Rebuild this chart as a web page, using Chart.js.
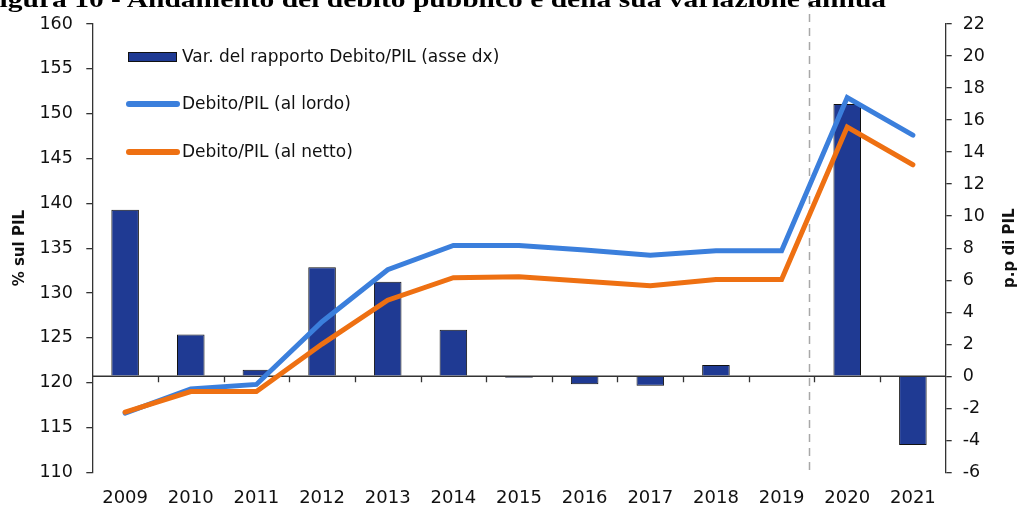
<!DOCTYPE html>
<html>
<head>
<meta charset="utf-8">
<script src="https://cdn.jsdelivr.net/npm/chart.js"></script>
<style>
  html, body { margin: 0; padding: 0; background: #fff; }
  #wrap { position: relative; width: 1024px; height: 507px; overflow: hidden; }
  #title {
    position: absolute; left: -15px; top: -14px; white-space: nowrap;
    font-family: "Liberation Serif", serif; font-weight: bold; font-size: 24px; color: #000;
    transform: scaleX(1.23); transform-origin: 15px 0;
  }
  #legend { position: absolute; left: 0; top: 0; font-family: "DejaVu Sans", sans-serif; font-size: 17px; color: #111; }
  .item { position: absolute; white-space: nowrap; line-height: 20px; }
  .sw { position: absolute; }
</style>
</head>
<body>
<div id="wrap">
  <canvas id="debtChart" width="1024" height="507"></canvas>
  <div id="title">Figura 10 - Andamento del debito pubblico e della sua variazione annua</div>
  <div id="legend"></div>
</div>
<script>
const years = ['2009', '2010', '2011', '2012', '2013', '2014', '2015', '2016', '2017', '2018', '2019', '2020', '2021'];
const varRatio = [10.4, 2.6, 0.4, 6.8, 5.9, 2.9, -0.1, -0.5, -0.6, 0.7, -0.05, 17.0, -4.3];
const debtGross = [116.6, 119.3, 119.8, 126.8, 132.6, 135.3, 135.3, 134.8, 134.2, 134.7, 134.7, 151.8, 147.6];
const debtNet = [116.7, 119.0, 119.0, 124.3, 129.2, 131.7, 131.8, 131.3, 130.8, 131.5, 131.5, 148.5, 144.3];
const leftTicks = { min: 110, max: 160, step: 5 };
const rightTicks = { min: -6, max: 22, step: 2 };

const FONT = '"DejaVu Sans", sans-serif';
const AXIS = '#333';

// zero line of the right axis, with small ticks between the years, plus the dashed split
const guides = {
  id: 'guides',
  beforeDatasetsDraw(chart) {
    const { ctx, chartArea, scales } = chart;
    const x = scales.x, y0 = scales.y1.getPixelForValue(0);
    const step = x.getPixelForValue(1) - x.getPixelForValue(0);
    ctx.save();
    ctx.strokeStyle = AXIS;
    ctx.lineWidth = 1.3;
    ctx.beginPath();
    ctx.moveTo(chartArea.left, y0);
    ctx.lineTo(chartArea.right, y0);
    for (let i = 0; i < years.length - 1; i++) {
      const px = Math.round(x.getPixelForValue(i) + step / 2) + 0.5;
      ctx.moveTo(px, y0);
      ctx.lineTo(px, y0 + 6);
    }
    ctx.stroke();
    // dashed separator between actual and forecast years
    const dx = Math.round(x.getPixelForValue(10) + step * 0.42) + 0.5;
    ctx.strokeStyle = '#a8a8a8';
    ctx.lineWidth = 1.5;
    ctx.setLineDash([8, 6]);
    ctx.beginPath();
    ctx.moveTo(dx, 0);
    ctx.lineTo(dx, chartArea.bottom + 2);
    ctx.stroke();
    ctx.restore();
  },
  afterDraw(chart) {
    const { ctx, chartArea } = chart;
    const cy = (chartArea.top + chartArea.bottom) / 2;
    ctx.save();
    ctx.fillStyle = '#111';
    ctx.font = 'bold 15px ' + FONT;
    ctx.textAlign = 'center';
    ctx.textBaseline = 'middle';
    ctx.translate(20, cy);
    ctx.rotate(-Math.PI / 2);
    ctx.fillText('% sul PIL', 0, 0);
    ctx.restore();
    ctx.save();
    ctx.fillStyle = '#111';
    ctx.font = 'bold 15px ' + FONT;
    ctx.textAlign = 'center';
    ctx.textBaseline = 'middle';
    ctx.translate(1010, cy);
    ctx.rotate(-Math.PI / 2);
    ctx.fillText('p.p di PIL', 0, 0);
    ctx.restore();
  }
};

const ctx = document.getElementById('debtChart').getContext('2d');
const debtChart = new Chart(ctx, {
  data: {
    labels: years,
    datasets: [
      {
        type: 'bar',
        label: 'Var. del rapporto Debito/PIL (asse dx)',
        data: varRatio,
        yAxisID: 'y1',
        backgroundColor: '#1f3a93',
        borderColor: '#111',
        borderWidth: 1,
        barPercentage: 0.42,
        categoryPercentage: 1,
        order: 2
      },
      {
        type: 'line',
        label: 'Debito/PIL (al lordo)',
        data: debtGross,
        yAxisID: 'y',
        borderColor: '#3b7fdc',
        borderWidth: 5,
        pointRadius: 0,
        tension: 0,
        borderCapStyle: 'round',
        order: 1
      },
      {
        type: 'line',
        label: 'Debito/PIL (al netto)',
        data: debtNet,
        yAxisID: 'y',
        borderColor: '#ee7012',
        borderWidth: 5,
        pointRadius: 0,
        tension: 0,
        borderCapStyle: 'round',
        order: 0
      }
    ]
  },
  options: {
    responsive: false,
    animation: false,
    layout: { padding: { top: 20.5, left: 0, right: 0, bottom: 0 } },
    plugins: { legend: { display: false }, tooltip: { enabled: false } },
    scales: {
      x: {
        offset: true,
        grid: { display: false, drawTicks: false },
        border: { display: false },
        ticks: { color: '#111', font: { family: FONT, size: 18 }, padding: 15, maxRotation: 0 },
        afterFit(s) { s.height = 507 - 472.3; }
      },
      y: {
        position: 'left',
        min: leftTicks.min,
        max: leftTicks.max,
        ticks: { stepSize: leftTicks.step, color: '#111', font: { family: FONT, size: 17.5 }, padding: 13.5 },
        grid: { display: true, drawOnChartArea: false, drawTicks: true, tickLength: 6, color: AXIS, lineWidth: 1.3 },
        border: { display: true, color: AXIS, width: 1.3 },
        afterFit(s) { s.width = 92.3; }
      },
      y1: {
        position: 'right',
        min: rightTicks.min,
        max: rightTicks.max,
        ticks: { stepSize: rightTicks.step, color: '#111', font: { family: FONT, size: 17.5 }, padding: 11 },
        grid: { display: true, drawOnChartArea: false, drawTicks: true, tickLength: 6, color: AXIS, lineWidth: 1.3 },
        border: { display: true, color: AXIS, width: 1.3 },
        afterFit(s) { s.width = 1024 - 945.7; }
      }
    }
  },
  plugins: [guides]
});

// legend in the upper-left of the plot, built from the dataset labels and colours
const legendRows = [
  { y: 57, swatch: { left: 128, top: 52, width: 47, height: 8, border: true } },
  { y: 104, swatch: { left: 126, top: 101, width: 54, height: 6, border: false } },
  { y: 152, swatch: { left: 126, top: 149, width: 54, height: 6, border: false } }
];
const legend = document.getElementById('legend');
debtChart.data.datasets.forEach((ds, i) => {
  const r = legendRows[i];
  const sw = document.createElement('div');
  sw.className = 'sw';
  sw.style.left = r.swatch.left + 'px';
  sw.style.top = r.swatch.top + 'px';
  sw.style.width = r.swatch.width + 'px';
  sw.style.height = r.swatch.height + 'px';
  if (r.swatch.border) {
    sw.style.background = ds.backgroundColor;
    sw.style.border = '1px solid #111';
  } else {
    sw.style.background = ds.borderColor;
    sw.style.borderRadius = '3px';
  }
  legend.appendChild(sw);
  const t = document.createElement('div');
  t.className = 'item';
  t.style.left = '182px';
  t.style.top = (r.y - 11) + 'px';
  t.textContent = ds.label;
  legend.appendChild(t);
});
</script>
</body>
</html>
